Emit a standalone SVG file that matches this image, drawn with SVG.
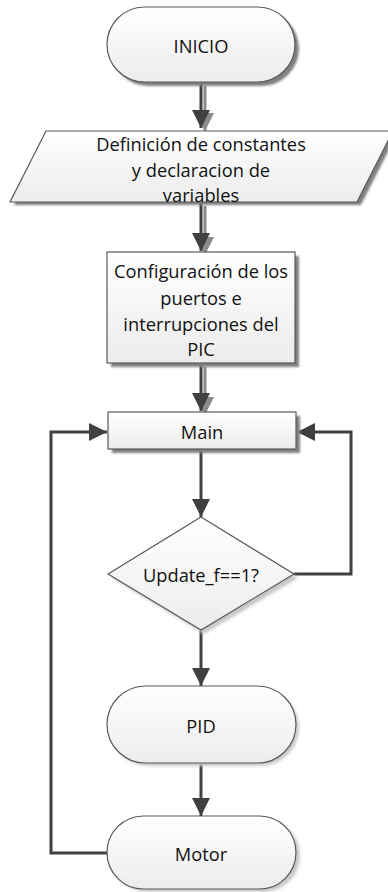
<svg xmlns="http://www.w3.org/2000/svg" width="388" height="892" viewBox="0 0 388 892">
<defs>
<linearGradient id="fillg" x1="0" y1="0" x2="0" y2="1">
<stop offset="0" stop-color="#ffffff"/>
<stop offset="1" stop-color="#ececec"/>
</linearGradient>
<filter id="blur" x="-10%" y="-10%" width="120%" height="120%"><feGaussianBlur stdDeviation="0.8"/></filter>
<filter id="soft" x="-10%" y="-10%" width="130%" height="130%"><feGaussianBlur stdDeviation="1.5"/></filter>
<marker id="ah" viewBox="0 0 18 18" refX="18" refY="9" markerWidth="18" markerHeight="18" markerUnits="userSpaceOnUse" orient="auto">
<path d="M0,0 L18,9 L0,18 Z" fill="#404040"/>
</marker>
<marker id="ahs" viewBox="0 0 18 18" refX="18" refY="9" markerWidth="18" markerHeight="18" markerUnits="userSpaceOnUse" orient="auto">
<path d="M0,0 L18,9 L0,18 Z" fill="#8a8a8a"/>
</marker>
</defs>
<style>
.shape{fill:url(#fillg);stroke:#595959;stroke-width:1.2}
.shadow{fill:#808080;stroke:none;filter:url(#blur)}
.shadow2{fill:#c8c8c8;stroke:none;filter:url(#soft)}
.lbl{font-family:"Open Sans","Liberation Sans",sans-serif;font-size:18.3px;fill:#111;text-anchor:middle;dominant-baseline:central}
.conn{fill:none;stroke:#404040;stroke-width:3;marker-end:url(#ah)}
.conn-s{fill:none;stroke:#8a8a8a;stroke-width:3;marker-end:url(#ahs)}
</style>

<g id="connectors">
<line class="conn-s" x1="205" y1="86" x2="205" y2="131"/>
<line class="conn" x1="201" y1="82" x2="201" y2="128"/>
<line class="conn-s" x1="205" y1="206" x2="205" y2="255"/>
<line class="conn" x1="201" y1="202" x2="201" y2="251"/>
<line class="conn-s" x1="205" y1="367" x2="205" y2="415"/>
<line class="conn" x1="201" y1="363" x2="201" y2="411"/>
<line class="conn" x1="201" y1="449" x2="201" y2="517"/>
<line class="conn" x1="201" y1="630" x2="201" y2="686"/>
<line class="conn" x1="201" y1="763" x2="201" y2="816"/>
<polyline class="conn" points="294,574 351,574 351,432 297,432"/>
<polyline class="conn" points="108,853 51,853 51,432 107,432"/>
</g>

<g id="inicio">
<rect class="shadow" x="111" y="11" width="188" height="75" rx="37.5"/>
<rect class="shape" x="107" y="7" width="188" height="75" rx="37.5"/>
<text class="lbl" x="201" y="45">INICIO</text>
</g>

<g id="definicion">
<polygon class="shadow" points="50,134 397,134 361,205 14,205"/>
<polygon class="shape" points="46,131 393,131 357,202 10,202"/>
<text class="lbl" x="201" y="143">Definición de constantes</text>
<text class="lbl" x="201" y="169">y declaracion de</text>
<text class="lbl" x="201" y="194">variables</text>
</g>

<g id="configuracion">
<rect class="shadow" x="111" y="256" width="188" height="111"/>
<rect class="shape" x="107" y="252" width="188" height="111"/>
<text class="lbl" x="201" y="270">Configuración de los</text>
<text class="lbl" x="201" y="297">puertos e</text>
<text class="lbl" x="201" y="323">interrupciones del</text>
<text class="lbl" x="201" y="348">PIC</text>
</g>

<g id="main">
<rect class="shadow" x="112" y="416" width="188" height="37"/>
<rect class="shape" x="108" y="412" width="188" height="37"/>
<text class="lbl" x="202" y="431">Main</text>
</g>

<g id="decision">
<polygon class="shadow2" points="204,521 298,578 204,634 112,578"/>
<polygon class="shape" points="201,517 294,574 201,630 108,574"/>
<text class="lbl" x="201" y="574">Update_f==1?</text>
</g>

<g id="pid">
<rect class="shadow2" x="110" y="689" width="189" height="77" rx="38.5"/>
<rect class="shape" x="107" y="686" width="189" height="77" rx="38.5"/>
<text class="lbl" x="201" y="725">PID</text>
</g>

<g id="motor">
<rect class="shadow2" x="111" y="819" width="189" height="73" rx="36.5"/>
<rect class="shape" x="107" y="816" width="189" height="73" rx="36.5"/>
<text class="lbl" x="201" y="853">Motor</text>
</g>
</svg>
